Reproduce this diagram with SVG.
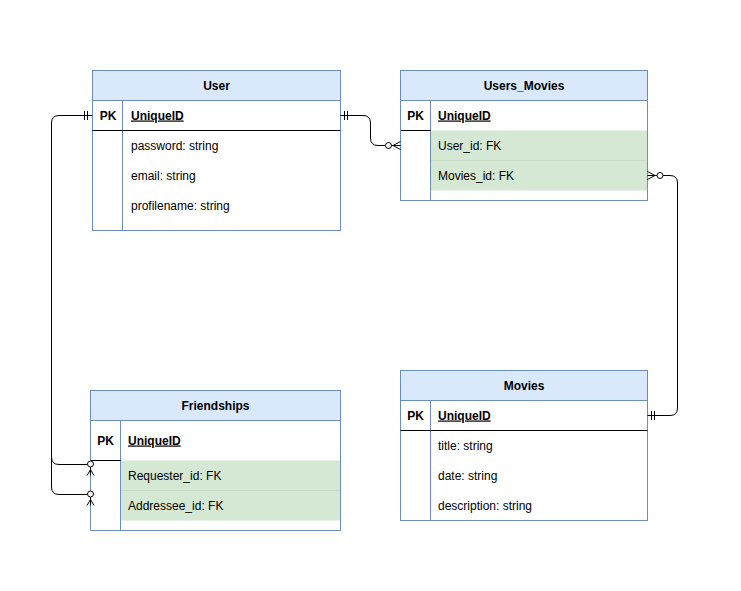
<svg xmlns="http://www.w3.org/2000/svg" width="741" height="591" viewBox="0 0 741 591">
  <style>
    text { font-family: "Liberation Sans", Arial, Helvetica, sans-serif; font-size: 12px; fill: #000; }
    .title { font-weight: bold; text-anchor: middle; }
    .pk { font-weight: bold; text-anchor: middle; }
    .key { font-weight: bold; text-decoration: underline; }
    .frame { fill: #fff; stroke: #6c8ebf; stroke-width: 1; }
    .head { fill: #dae8fc; stroke: #6c8ebf; stroke-width: 1; }
    .fk { fill: #d5e8d4; stroke: none; }
    .col { stroke: #6c8ebf; stroke-width: 1; fill: none; }
    .sep { stroke: #000; stroke-width: 1; fill: none; }
    .edge { stroke: #000; stroke-width: 1; fill: none; }
    .mark { stroke: #000; stroke-width: 1; fill: #fff; }
  </style>
  <rect width="741" height="591" fill="#fff"/>

  <!-- User -->
  <g id="user">
    <rect class="frame" x="92.5" y="70.5" width="248" height="160"/>
    <rect class="head" x="92.5" y="70.5" width="248" height="30"/>
    <line class="col" x1="122.5" y1="100.5" x2="122.5" y2="230.5"/>
    <line class="sep" x1="92.5" y1="130.5" x2="340.5" y2="130.5"/>
    <text class="title" x="216.5" y="89.5">User</text>
    <text class="pk" x="108" y="119.5">PK</text>
    <text class="key" x="131" y="119.5">UniqueID</text>
    <text x="131" y="149.5">password: string</text>
    <text x="131" y="179.5">email: string</text>
    <text x="131" y="209.5">profilename: string</text>
  </g>

  <!-- Users_Movies -->
  <g id="users_movies">
    <rect class="frame" x="400.5" y="70.5" width="247" height="130"/>
    <rect class="fk" x="430.5" y="130.5" width="217" height="60"/>
    <line x1="430.5" y1="160.5" x2="647" y2="160.5" stroke="#c9dcc8" stroke-width="1"/>
    <rect class="head" x="400.5" y="70.5" width="247" height="30"/>
    <line class="col" x1="430.5" y1="100.5" x2="430.5" y2="200.5"/>
    <line class="sep" x1="400.5" y1="130.5" x2="430.5" y2="130.5"/>
    <rect x="400.5" y="70.5" width="247" height="130" fill="none" stroke="#6c8ebf"/>
    <text class="title" x="524" y="89.5">Users_Movies</text>
    <text class="pk" x="415.5" y="119.5">PK</text>
    <text class="key" x="438" y="119.5">UniqueID</text>
    <text x="438" y="149.5">User_id: FK</text>
    <text x="438" y="179.5">Movies_id: FK</text>
  </g>

  <!-- Friendships -->
  <g id="friendships">
    <rect class="frame" x="90.5" y="390.5" width="250" height="140"/>
    <rect class="fk" x="120.5" y="460.5" width="220" height="60"/>
    <line x1="120.5" y1="490.5" x2="340" y2="490.5" stroke="#c9dcc8" stroke-width="1"/>
    <rect class="head" x="90.5" y="390.5" width="250" height="30"/>
    <line class="col" x1="120.5" y1="420.5" x2="120.5" y2="530.5"/>
    <line class="sep" x1="90.5" y1="460.5" x2="120.5" y2="460.5"/>
    <rect x="90.5" y="390.5" width="250" height="140" fill="none" stroke="#6c8ebf"/>
    <text class="title" x="215.5" y="409.5">Friendships</text>
    <text class="pk" x="105.5" y="444.5">PK</text>
    <text class="key" x="128" y="444.5">UniqueID</text>
    <text x="128" y="479.5">Requester_id: FK</text>
    <text x="128" y="509.5">Addressee_id: FK</text>
  </g>

  <!-- Movies -->
  <g id="movies">
    <rect class="frame" x="400.5" y="370.5" width="247" height="150"/>
    <rect class="head" x="400.5" y="370.5" width="247" height="30"/>
    <line class="col" x1="430.5" y1="400.5" x2="430.5" y2="520.5"/>
    <line class="sep" x1="400.5" y1="430.5" x2="647.5" y2="430.5"/>
    <text class="title" x="524" y="389.5">Movies</text>
    <text class="pk" x="415.5" y="419.5">PK</text>
    <text class="key" x="438" y="419.5">UniqueID</text>
    <text x="438" y="449.5">title: string</text>
    <text x="438" y="479.5">date: string</text>
    <text x="438" y="509.5">description: string</text>
  </g>

  <!-- relationships -->
  <g id="connectors">
    <!-- User 1 : Friendships requester / addressee -->
    <path class="edge" d="M92.5,115.5 H59 Q51.5,115.5 51.5,123 V457 Q51.5,464.5 59,464.5 H87"/>
    <path class="edge" d="M51.5,455 V487 Q51.5,494.5 59,494.5 H87"/>
    <path class="edge" d="M84.5,111 V120 M87.5,111 V120"/>
    <circle class="mark" cx="90.5" cy="464" r="3"/>
    <path class="edge" d="M90.5,467 V475.5 M90.5,469.5 L87,475.5 M90.5,469.5 L94,475.5"/>
    <circle class="mark" cx="90.5" cy="494" r="3"/>
    <path class="edge" d="M90.5,497 V505.5 M90.5,499.5 L87,505.5 M90.5,499.5 L94,505.5"/>

    <!-- User 1 : Users_Movies many -->
    <path class="edge" d="M340.5,115.5 H363 Q370.5,115.5 370.5,123 V138 Q370.5,145.5 378,145.5 H385"/>
    <path class="edge" d="M344.5,111 V120 M347.5,111 V120"/>
    <circle class="mark" cx="388.5" cy="145.5" r="3"/>
    <path class="edge" d="M391.5,145.5 H400.5 M393,145.5 L400.5,141.5 M393,145.5 L400.5,149.5"/>

    <!-- Users_Movies many : Movies 1 -->
    <path class="edge" d="M663,175.5 H670 Q677.5,175.5 677.5,183 V408 Q677.5,415.5 670,415.5 H647.5"/>
    <path class="edge" d="M647.5,175.5 H657 M655,175.5 L647.5,171.5 M655,175.5 L647.5,179.5"/>
    <circle class="mark" cx="660" cy="175.5" r="3"/>
    <path class="edge" d="M651.5,411 V420 M654.5,411 V420"/>
  </g>
</svg>
